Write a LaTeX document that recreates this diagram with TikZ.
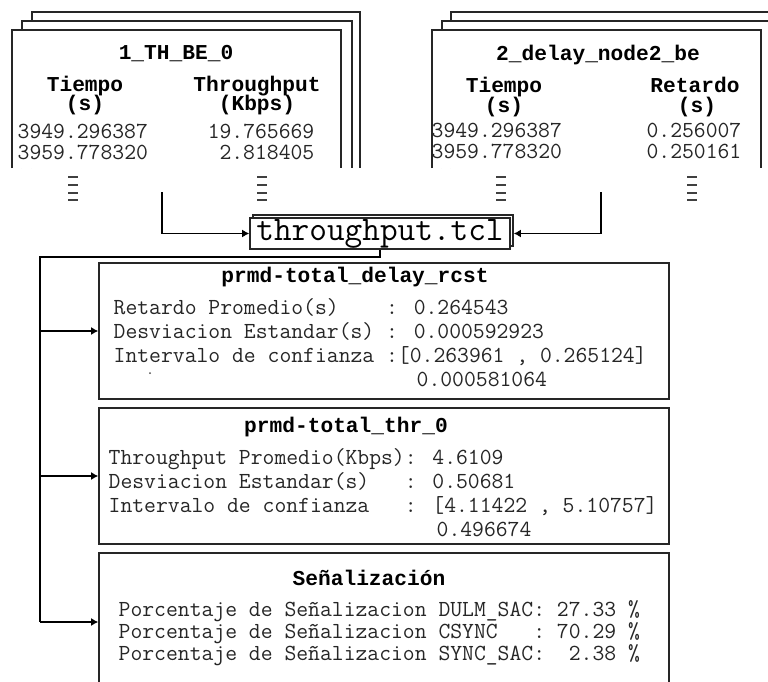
\documentclass[tikz,border=0pt]{standalone}
\usepackage{fontspec}
\newfontfamily\headfont{Liberation Mono}
\usetikzlibrary{arrows.meta}
\begin{document}
\begin{tikzpicture}[x=1pt,y=-1pt,
  line width=1.4pt,
  body/.style={font=\ttfamily\fontsize{23}{26}\selectfont, inner sep=0pt, text=black!85},
  head/.style={font=\headfont\bfseries\fontsize{21.2}{24}\selectfont, inner sep=0pt},
  script/.style={font=\ttfamily\fontsize{34.3}{36}\selectfont, inner sep=0pt},
  panel/.style={draw=black!85, line width=1.6pt, rectangle, inner sep=0pt, fill=white},
  flow/.style={draw=black, line width=1.4pt, -{Latex[length=7pt,width=8pt]}},
  bar/.style={line width=1.3pt, draw=black!75},
]
\useasboundingbox (0,0) rectangle (768,682);
\fill[white] (0,0) rectangle (768,682);

% ---- stacked data sheets (back to front), open at the bottom ----
\foreach \xa/\ya/\xb in {32/12/360, 22/21/352, 12/30/341,
                         451/12/790, 442/21/781, 432/30/761} {
  \fill[white] (\xa,\ya) rectangle (\xb,168);
  \draw[black!85] (\xa,168) -- (\xa,\ya) -- (\xb,\ya) -- (\xb,168);
}

% first sheet: throughput trace
\node[head, anchor=base] (th) at (176,60) {1\_TH\_BE\_0};
\node[head, anchor=base] (thta) at (85,92) {Tiempo};
\node[head, anchor=base] (thtb) at (85,111) {(s)};
\node[head, anchor=base] (thva) at (257,92) {Throughput};
\node[head, anchor=base] (thvb) at (257,111) {(Kbps)};
\node[body, anchor=base west] (th1) at (17,139) {3949.296387};
\node[body, anchor=base west] (th2) at (17,159) {3959.778320};
\node[body, anchor=base east] (th3) at (315,139) {19.765669};
\node[body, anchor=base east] (th4) at (315,159) {2.818405};

% second sheet: delay trace
\node[head, anchor=base] (dl) at (598,61) {2\_delay\_node2\_be};
\node[head, anchor=base] (dlta) at (504,93) {Tiempo};
\node[head, anchor=base] (dltb) at (504,113) {(s)};
\node[head, anchor=base] (dlva) at (695,93) {Retardo};
\node[head, anchor=base] (dlvb) at (697,113) {(s)};
\node[body, anchor=base west] (dl1) at (431,138) {3949.296387};
\node[body, anchor=base west] (dl2) at (431,158) {3959.778320};
\node[body, anchor=base east] (dl3) at (742,138) {0.256007};
\node[body, anchor=base east] (dl4) at (742,158) {0.250161};

% continuation marks below each column
\foreach \cx in {73, 262, 501, 692} {
  \foreach \cy in {177, 185, 193, 200} {
    \draw[bar] (\cx-5,\cy) -- (\cx+5,\cy);
  }
}

% ---- processing script ----
\node[panel, minimum width=260, minimum height=31] (tclback) at (383,230.5) {};
\node[panel, script, minimum width=260, minimum height=31] (tcl) at (380,233.5) {throughput.tcl};

\coordinate (inl) at (162,192);
\coordinate (inr) at (601,192);
\draw[flow] (inl) |- (tcl.west);
\draw[flow] (inr) |- (tclback.east |- tcl.east);

% ---- result panels ----
\node[panel, minimum width=570, minimum height=136] (delay) at (384,331) {};
\node[panel, minimum width=570, minimum height=136] (thr) at (384,476) {};
\node[panel, minimum width=570, minimum height=138] (sig) at (384,622) {};

\coordinate (spine) at (40,257);
\draw (tcl.south) |- (spine) -- (spine |- sig.west);
\draw[flow] (spine |- delay.west) -- (delay.west);
\draw[flow] (spine |- thr.west) -- (thr.west);
\draw[flow] (spine |- sig.west) -- (sig.west);

% delay statistics
\node[head, anchor=base] (dt) at (355,282) {prmd-total\_delay\_rcst};
\node[body, anchor=base west] (d1) at (113,314) {Retardo Promedio(s)~~~~: 0.264543};
\node[body, anchor=base west] (d2) at (113,338) {Desviacion Estandar(s) : 0.000592923};
\node[body, anchor=base west] (d3) at (113,362) {Intervalo de confianza :[0.263961 , 0.265124]};
\node[body, anchor=base west] (d4) at (416,386) {0.000581064};
\fill[black!70] (150,373) circle (1);

% throughput statistics
\node[head, anchor=base] (tt) at (346,432) {prmd-total\_thr\_0};
\node[body, anchor=base west] (t1) at (108,464) {Throughput Promedio(Kbps): 4.6109};
\node[body, anchor=base west] (t2) at (108,488) {Desviacion Estandar(s)~~~: 0.50681};
\node[body, anchor=base west] (t3) at (108,512) {Intervalo de confianza~~~: [4.11422 , 5.10757]};
\node[body, anchor=base west] (t4) at (436,536) {0.496674};

% signalling shares
\node[head, anchor=base] (st) at (369,585) {Señalización};
\node[body, anchor=base west] (s1) at (118,616) {Porcentaje de Señalizacion DULM\_SAC: 27.33 \%};
\node[body, anchor=base west] (s2) at (118,638) {Porcentaje de Señalizacion CSYNC~~~: 70.29 \%};
\node[body, anchor=base west] (s3) at (118,660) {Porcentaje de Señalizacion SYNC\_SAC:~~2.38 \%};
\end{tikzpicture}
\end{document}
